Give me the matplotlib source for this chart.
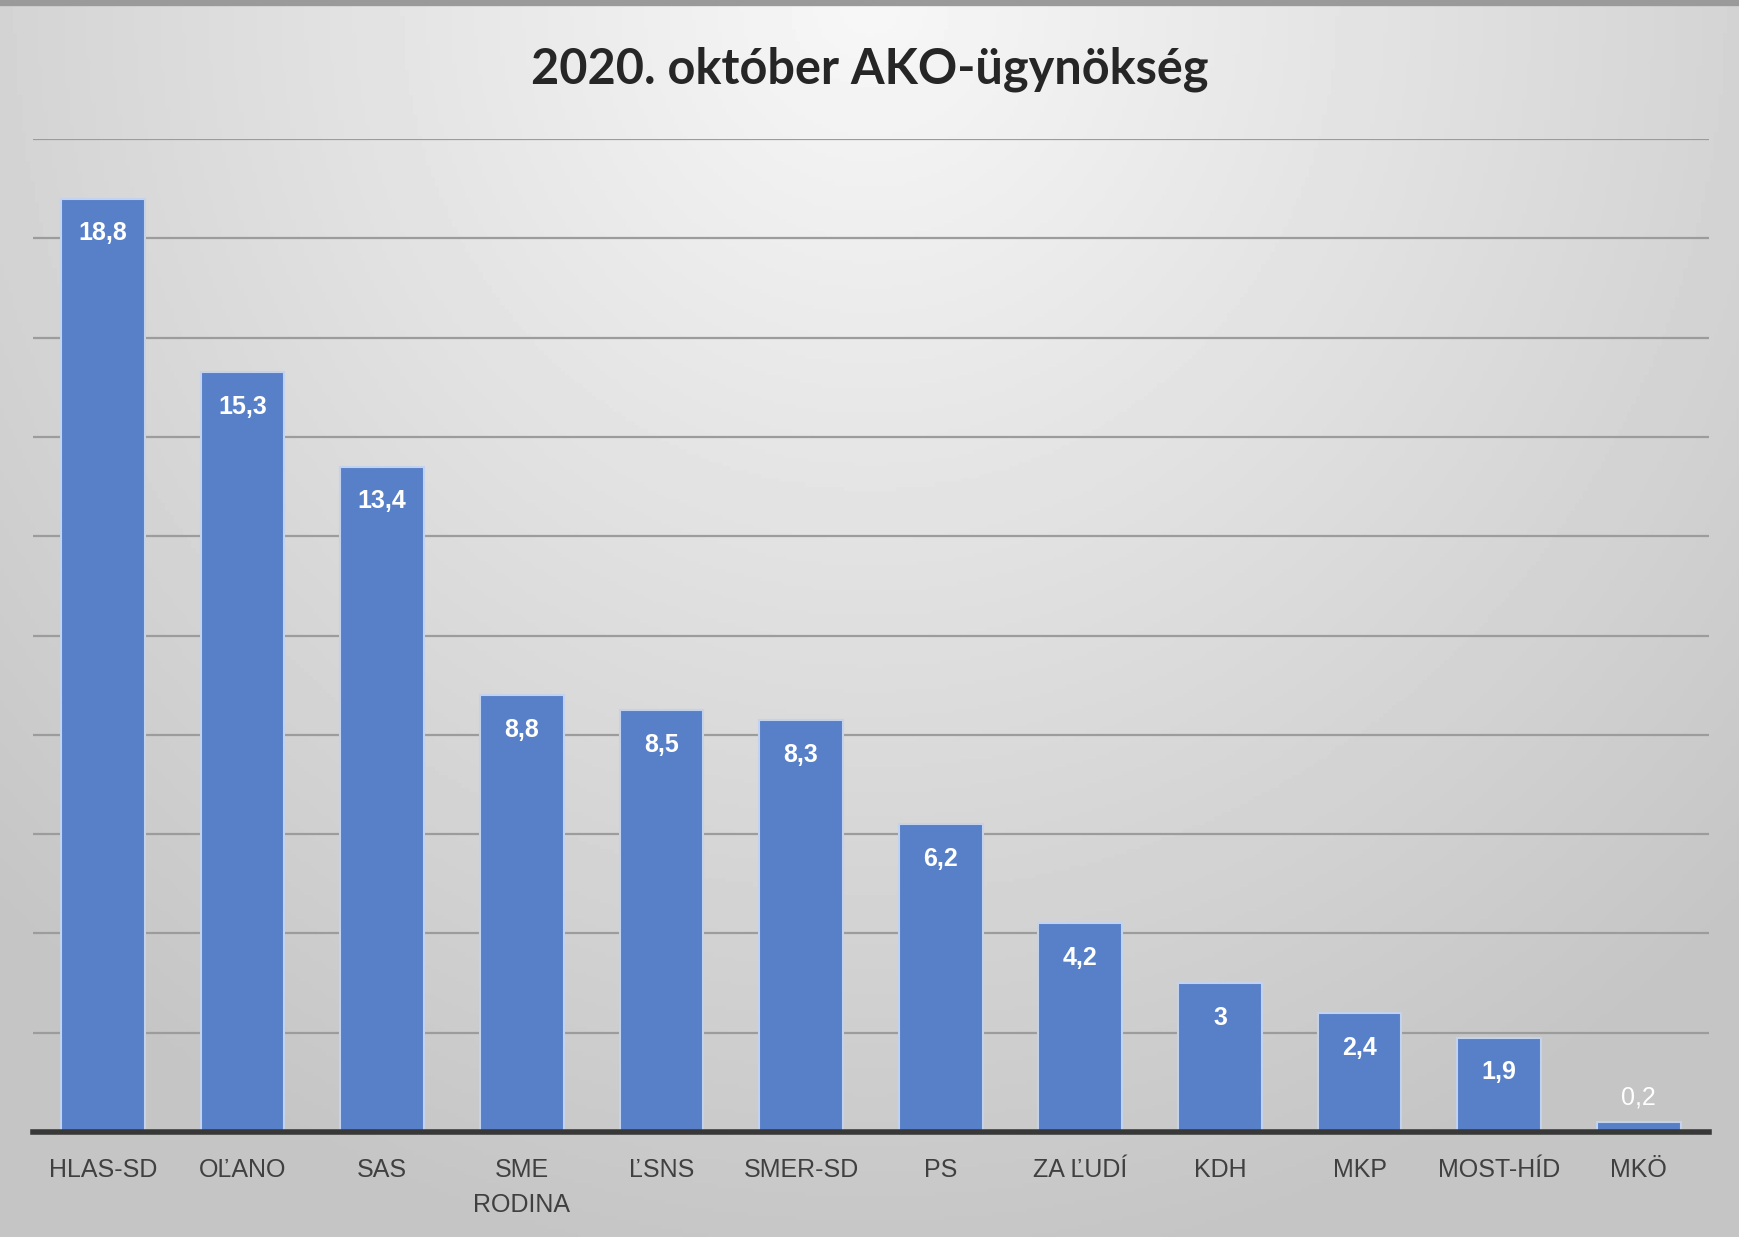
import numpy as np
import matplotlib.pyplot as plt

# data
parties = ["HLAS-SD", "OĽANO", "SAS", "SME\nRODINA", "ĽSNS", "SMER-SD", "PS",
           "ZA ĽUDÍ", "KDH", "MKP", "MOST-HÍD", "MKÖ"]
values = [18.8, 15.3, 13.4, 8.8, 8.5, 8.3, 6.2, 4.2, 3, 2.4, 1.9, 0.2]
labels = ["18,8", "15,3", "13,4", "8,8", "8,5", "8,3", "6,2", "4,2", "3", "2,4", "1,9", "0,2"]
title = "2020. október AKO-ügynökség"

narrow = ['Liberation Sans', 'DejaVu Sans']

fig = plt.figure(figsize=(17.4, 12.37), dpi=100)

# radial grey background, lightest at top centre
bg = fig.add_axes([0, 0, 1, 1], zorder=-10)
yy, xx = np.mgrid[0:1:300j, 0:1:400j]
r = np.sqrt(((xx - 0.5) / 0.75) ** 2 + (yy / 1.1) ** 2)
shade = np.clip(0.97 - 0.21 * r, 0.77, 0.97)
bg.imshow(shade, cmap='gray', vmin=0, vmax=1, aspect='auto', extent=[0, 1, 1, 0])
bg.axhline(0.002, color='#9a9a9a', lw=6)
bg.set_xlim(0, 1)
bg.set_ylim(1, 0)
bg.axis('off')

ax = fig.add_axes([0.019, 0.0849, 0.963, 0.8027])
ax.patch.set_alpha(0)
x = np.arange(len(parties))
bars = ax.bar(x, values, width=0.6, color='#5880c8', edgecolor='#c3d3ee',
              linewidth=1.5, zorder=3)

ax.set_xlim(-0.5, len(parties) - 0.5)
ax.set_ylim(0, 20)
ax.set_yticks(np.arange(2, 21, 2))
ax.yaxis.grid(True, color='#9c9c9c', linewidth=1.6, zorder=1)
ax.tick_params(axis='y', length=0, labelleft=False)
ax.tick_params(axis='x', length=0, pad=19)
for s in ['top', 'right', 'left']:
    ax.spines[s].set_visible(False)
ax.spines['bottom'].set_color('#383838')
ax.spines['bottom'].set_linewidth(4)
ax.spines['bottom'].set_zorder(4)

ax.set_xticks(x)
ax.set_xticklabels(parties, fontsize=18, color='#404040', family=narrow,
                   linespacing=1.55, va='top')

for b, v, lab in zip(bars, values, labels):
    cx = b.get_x() + b.get_width() / 2
    if v < 1:
        ax.annotate(lab, (cx, v), xytext=(0, 18), textcoords='offset points',
                    ha='center', va='center', color='white', fontsize=18,
                    family=narrow, zorder=5)
    else:
        ax.annotate(lab, (cx, v), xytext=(0, -25), textcoords='offset points',
                    ha='center', va='center', color='white', fontsize=18,
                    family=narrow, fontweight='bold', zorder=5)

fig.text(0.5, 0.944, title, ha='center', va='center', fontsize=35,
         fontweight='bold', color='#262626', family=['Lato', 'DejaVu Sans'])

fig.savefig('out.png', dpi=100)
